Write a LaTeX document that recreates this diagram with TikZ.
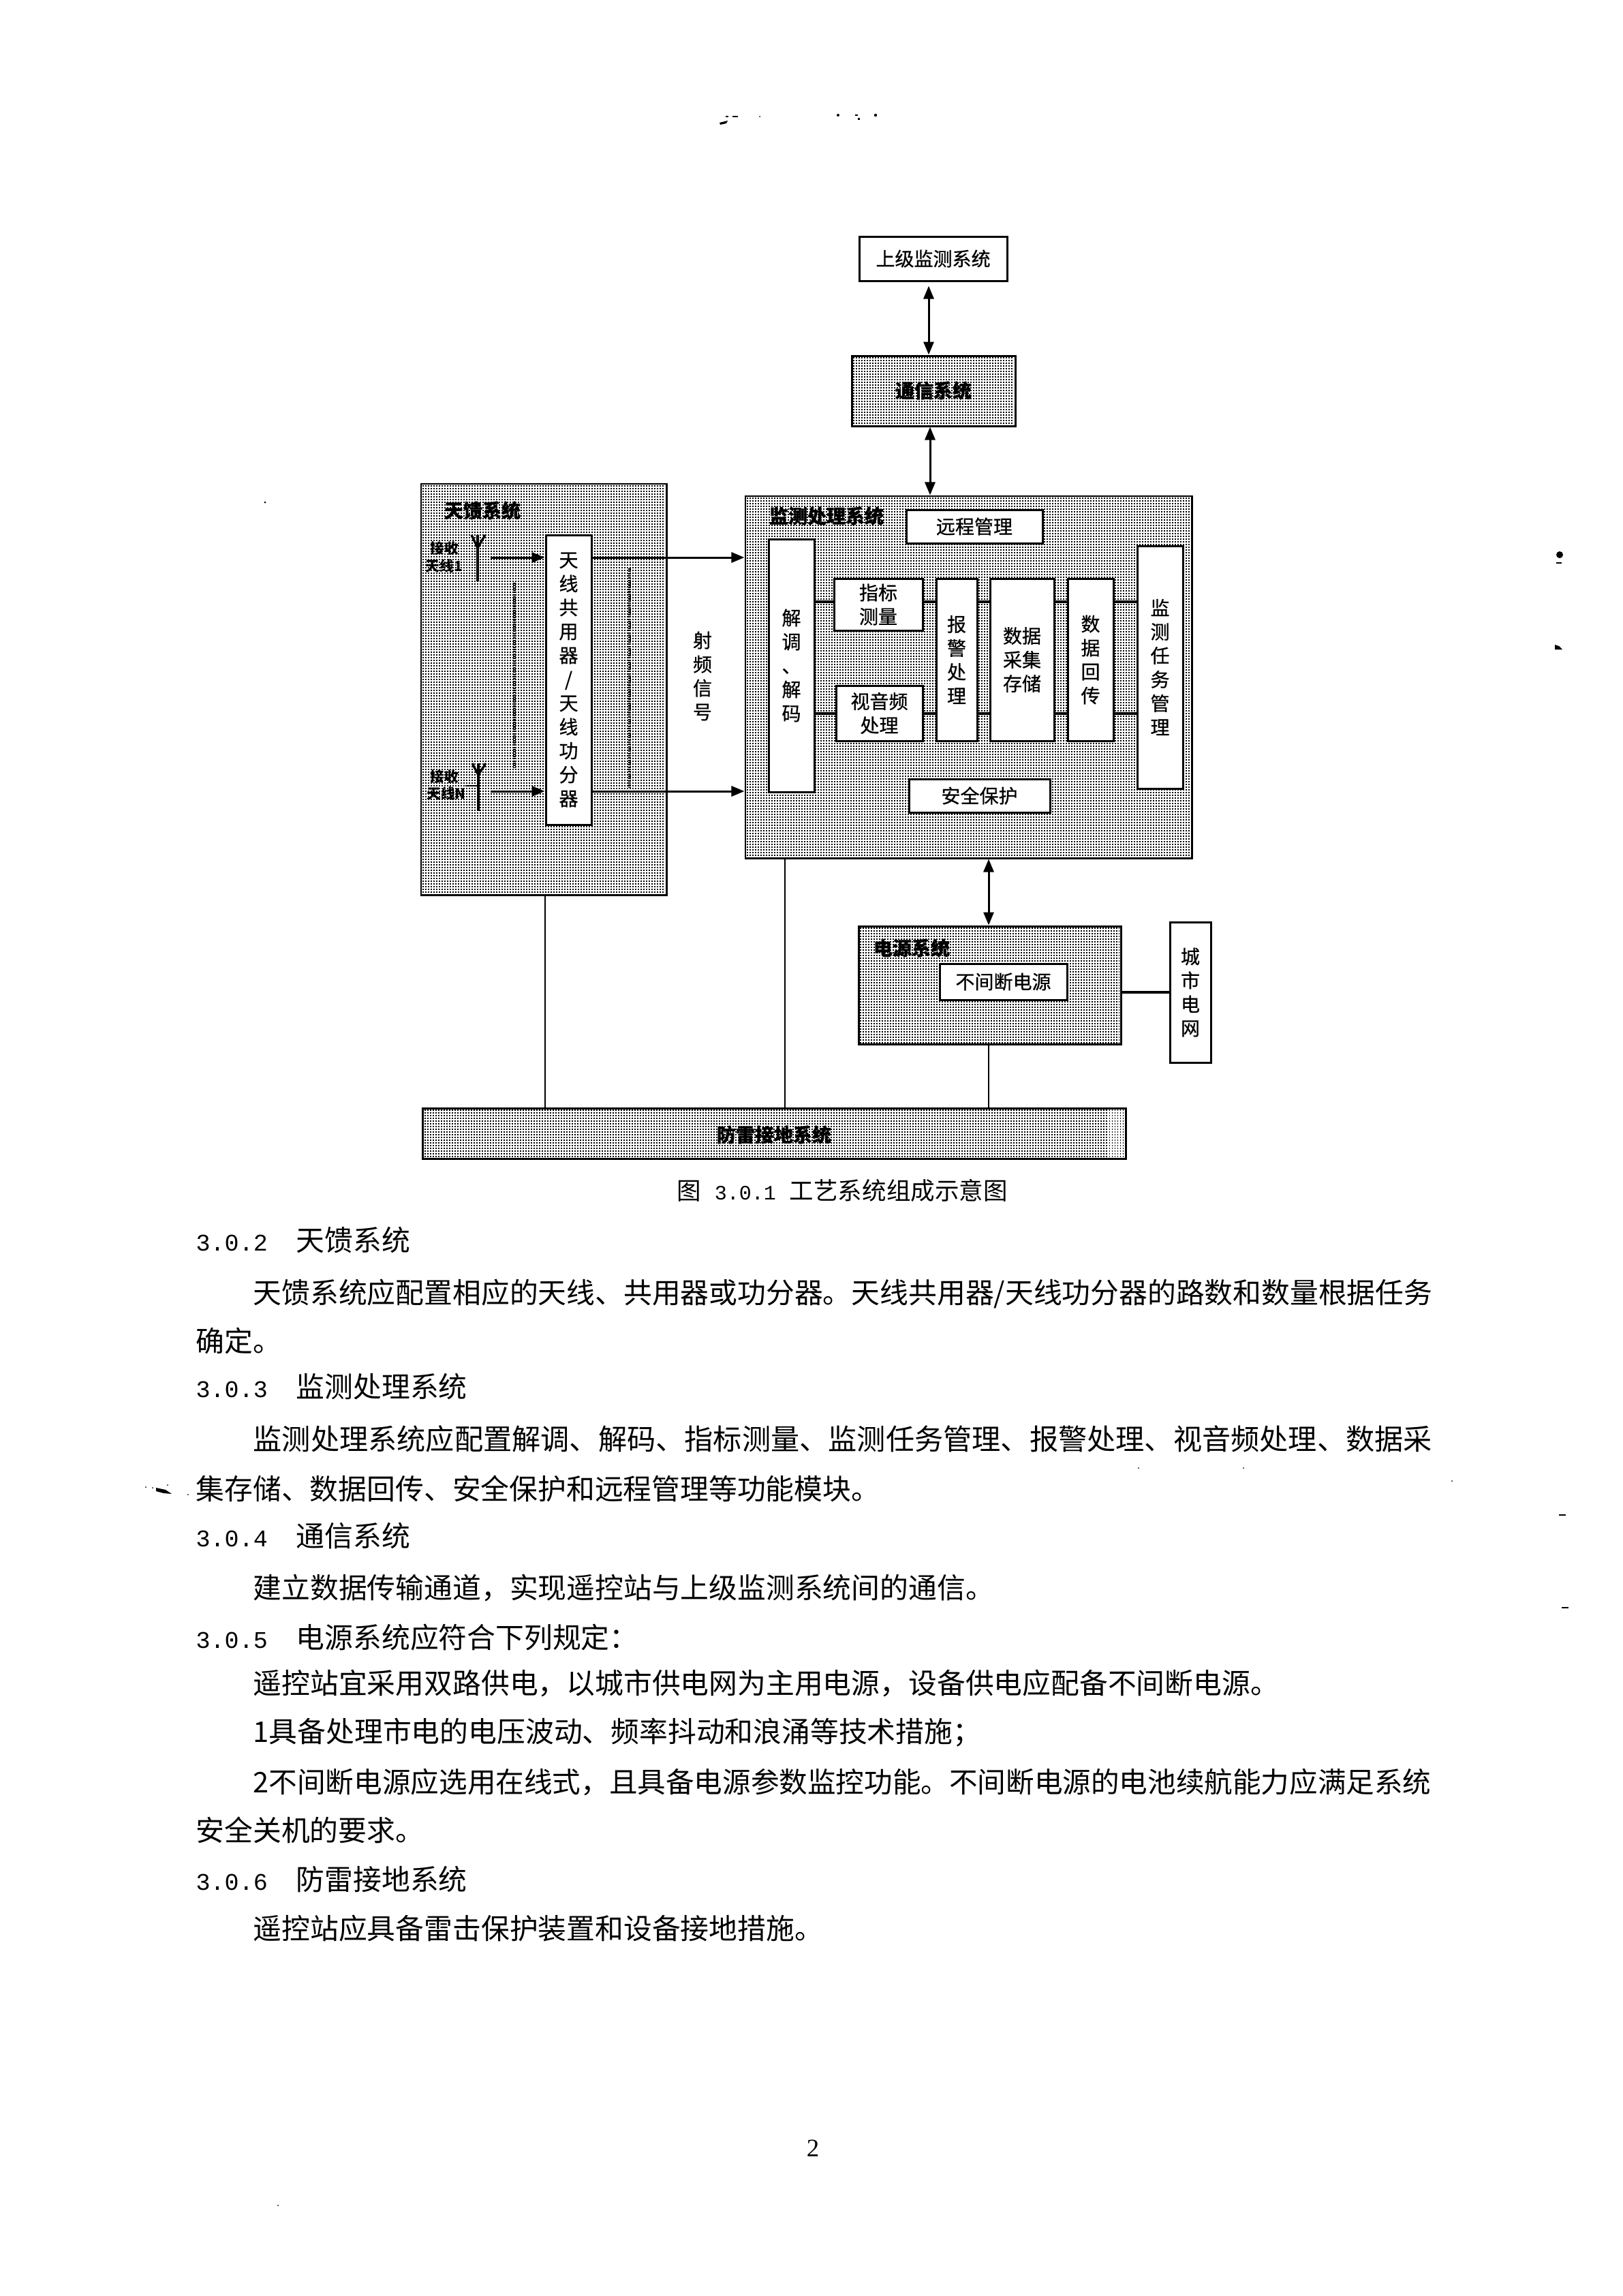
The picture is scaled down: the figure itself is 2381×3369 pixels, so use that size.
\documentclass[tikz,border=0pt]{standalone}
\usepackage{fontspec}
\setmainfont{Noto Sans CJK SC}
\newfontfamily\numfont{Liberation Mono}
\newfontfamily\pagefont{Liberation Serif}
\newfontfamily\diagfont[FakeBold=0.7]{Noto Sans CJK SC}
\usetikzlibrary{arrows.meta}
\newcommand{\fsdiag}{\diagfont\fontsize{7.97}{9.96}\selectfont}
\newcommand{\fsant}{\fontsize{5.9}{7.2}\selectfont\bfseries}
\newcommand{\fsbody}{\fontsize{11.89}{14}\selectfont}
\newcommand{\secnum}[1]{{\numfont\fontsize{9.96}{12}\selectfont #1}\hspace{0.42cm}}
\newcommand{\mkbox}[7]{%
  \pgfmathsetmacro\bw{(#5-#3)*0.01}\pgfmathsetmacro\bh{(#6-#4)*0.01}%
  \node[#2,minimum width=\bw cm,minimum height=\bh cm] (#1) at ({(#3+#5)/2},{(#4+#6)/2}) {#7};}
% stipple of a hatched system box, as dashed rows
\newcommand{\stipple}[4]{%
  \pgfmathtruncatemacro\ya{#2+3}\pgfmathtruncatemacro\yb{#2+7}\pgfmathtruncatemacro\yc{#4-2}%
  \draw[stiprow] \foreach \yy in {\ya,\yb,...,\yc} {(#1+2,\yy) -- (#3-2,\yy)};}
\tikzset{
  whitebox/.style={draw=black,line width=0.85pt,fill=white,inner sep=0pt,align=center,font=\fsdiag},
  hatchbox/.style={draw=black,line width=0.85pt,fill=white,inner sep=0pt},
  stiprow/.style={draw=black,line width=0.45pt,dash pattern=on 0.45pt off 0.688pt},
  label/.style={inner sep=0pt,align=center,font=\fsdiag},
  antlabel/.style={inner sep=0pt,align=center,font=\fsant},
  body/.style={anchor=west,inner sep=0pt,font=\fsbody,text height=.88em,text depth=.12em},
  wire/.style={draw=black,line width=0.7pt},
  thickwire/.style={draw=black,line width=0.95pt},
  both/.style={draw=black,line width=0.85pt,{Triangle[length=0.19cm,width=0.15cm]}-{Triangle[length=0.19cm,width=0.15cm]}},
  onearrow/.style={draw=black,line width=0.85pt,-{Triangle[length=0.19cm,width=0.15cm]}},
  dotline/.style={draw=black,line width=1pt,dash pattern=on 0.6pt off 0.35pt},
  speck/.style={fill=black,draw=none}
}
\begin{document}
\begin{tikzpicture}[x=0.01cm,y=-0.01cm]
\fill[white] (0,0) rectangle (2381,3369);
\useasboundingbox (0,0) rectangle (2381,3369);
% hatched systems
\mkbox{feed}{hatchbox}{618}{710}{978}{1313}{}
\stipple{618}{710}{978}{1313}
\mkbox{mon}{hatchbox}{1094}{728}{1749}{1259}{}
\stipple{1094}{728}{1749}{1259}
\mkbox{comm}{hatchbox}{1250}{522}{1490}{625}{}
\stipple{1250}{522}{1490}{625}
\mkbox{power}{hatchbox}{1260}{1359}{1645}{1532}{}
\stipple{1260}{1359}{1645}{1532}
\mkbox{ground}{hatchbox}{621}{1626}{1652}{1700}{}
\stipple{621}{1626}{1652}{1700}
% white boxes
\mkbox{upper}{whitebox}{1261}{347}{1478}{412}{上级监测系统}
\mkbox{combo}{whitebox}{801}{785}{868}{1210}{天\\线\\共\\用\\器\\/\\天\\线\\功\\分\\器}
\mkbox{remote}{whitebox}{1330}{748}{1530}{797}{远程管理}
\mkbox{demod}{whitebox}{1128}{791}{1195}{1162}{解\\调\\、\\解\\码}
\mkbox{metric}{whitebox}{1224}{849}{1354}{925}{指标\\测量}
\mkbox{av}{whitebox}{1227}{1006}{1354}{1087}{视音频\\处理}
\mkbox{alarm}{whitebox}{1374}{849}{1434}{1087}{报\\警\\处\\理}
\mkbox{store}{whitebox}{1453}{849}{1547}{1087}{数据\\采集\\存储}
\mkbox{back}{whitebox}{1567}{849}{1634}{1087}{数\\据\\回\\传}
\mkbox{task}{whitebox}{1669}{801}{1736}{1157}{监\\测\\任\\务\\管\\理}
\mkbox{safe}{whitebox}{1334}{1143}{1541}{1192}{安全保护}
\mkbox{ups}{whitebox}{1379}{1414}{1566}{1467}{不间断电源}
\mkbox{city}{whitebox}{1717}{1353}{1777}{1559}{城\\市\\电\\网}
% labels on hatching
\node[label,font=\fsdiag\bfseries] (lfeed) at (708,749) {天馈系统};
\node[label,font=\fsdiag\bfseries] (lmon) at (1213,757) {监测处理系统};
\node[label,font=\fsdiag\bfseries] (lcomm) at (1370,573) {通信系统};
\node[label,font=\fsdiag\bfseries] (lpower) at (1338,1391) {电源系统};
\node[label,font=\fsdiag\bfseries] (lground) at (1136,1665) {防雷接地系统};
\node[antlabel] (a1l) at (652,805) {接收};
\node[antlabel] (a1m) at (652,831) {天线1};
\node[antlabel] (anl) at (652,1140) {接收};
\node[antlabel] (anm) at (655,1165) {天线N};
\node[label] (rf) at (1031,992) {射\\频\\信\\号};
\node[inner sep=0pt,font=\fontsize{10.1}{12}\selectfont] (caption) at (1236,1747) {图\hspace{0.2cm}{\numfont\fontsize{8.53}{10}\selectfont 3.0.1}\hspace{0.2cm}工艺系统组成示意图};
% antennas
\draw[thickwire] (701,785) -- (701,853);
\draw[thickwire] (692,785) -- (701,804) -- (712,785);
\draw[thickwire] (702,1120) -- (702,1190);
\draw[thickwire] (693,1120) -- (702,1137) -- (713,1120);
\draw[wire] (683,1153) -- (702,1153);
% connectors
\coordinate (r1) at (0,818);
\coordinate (r2) at (0,1161);
\coordinate (l1) at (0,883);
\coordinate (l2) at (0,1047);
\coordinate (a1out) at (720,818);
\coordinate (anout) at (720,1161);
\draw[onearrow] (a1out) -- (combo.west |- r1);
\draw[onearrow] (anout) -- (combo.west |- r2);
\draw[onearrow] (combo.east |- r1) -- (mon.west |- r1);
\draw[onearrow] (combo.east |- r2) -- (mon.west |- r2);
\coordinate (d1a) at (755,855); \coordinate (d1b) at (755,1126);
\coordinate (d2a) at (924,834); \coordinate (d2b) at (924,1156);
\draw[dotline] (d1a) -- (d1b);
\draw[dotline] (d2a) -- (d2b);
\foreach \a/\b in {demod/metric,metric/alarm,alarm/store,store/back,back/task}
  \draw[thickwire] (\a.east |- l1) -- (\b.west |- l1);
\foreach \a/\b in {demod/av,av/alarm,alarm/store,store/back,back/task}
  \draw[thickwire] (\a.east |- l2) -- (\b.west |- l2);
\coordinate (c1) at (1363,0);
\coordinate (c2) at (1365,0);
\coordinate (c3) at (1451,0);
\draw[both] (upper.south -| c1) ++(0,6) -- (comm.north -| c1);
\draw[both] (comm.south -| c2) -- (mon.north -| c2);
\draw[both] (mon.south -| c3) -- (power.north -| c3);
\coordinate (g1) at (800,0);
\coordinate (g2) at (1152,0);
\draw[wire] (feed.south -| g1) -- (ground.north -| g1);
\draw[wire] (mon.south -| g2) -- (ground.north -| g2);
\draw[wire] (power.south -| c3) -- (ground.north -| c3);
\coordinate (p1) at (0,1456);
\draw[thickwire] (power.east |- p1) -- (city.west |- p1);
% page text
\node[body] (s302) at (287,1822) {\secnum{3.0.2}天馈系统};
\node[body] (t1) at (371,1899) {天馈系统应配置相应的天线、共用器或功分器。天线共用器/天线功分器的路数和数量根据任务};
\node[body] (t2) at (287,1970) {确定。};
\node[body] (s303) at (287,2037) {\secnum{3.0.3}监测处理系统};
\node[body,font=\fontsize{12}{14}\selectfont] (t3) at (371,2114) {监测处理系统应配置解调、解码、指标测量、监测任务管理、报警处理、视音频处理、数据采};
\node[body] (t4) at (287,2187) {集存储、数据回传、安全保护和远程管理等功能模块。};
\node[body] (s304) at (287,2256) {\secnum{3.0.4}通信系统};
\node[body] (t5) at (371,2332) {建立数据传输通道，实现遥控站与上级监测系统间的通信。};
\node[body] (s305) at (287,2405) {\secnum{3.0.5}电源系统应符合下列规定：};
\node[body] (t6) at (371,2472) {遥控站宜采用双路供电，以城市供电网为主用电源，设备供电应配备不间断电源。};
\node[body] (t7) at (371,2543) {1具备处理市电的电压波动、频率抖动和浪涌等技术措施；};
\node[body,font=\fontsize{11.83}{14}\selectfont] (t8) at (371,2617) {2不间断电源应选用在线式，且具备电源参数监控功能。不间断电源的电池续航能力应满足系统};
\node[body] (t9) at (287,2688) {安全关机的要求。};
\node[body] (s306) at (287,2760) {\secnum{3.0.6}防雷接地系统};
\node[body] (t10) at (371,2832) {遥控站应具备雷击保护装置和设备接地措施。};
\node[inner sep=0pt,font=\pagefont\fontsize{10.5}{12}\selectfont] (pageno) at (1193,3152) {2};
% scan specks
\fill[speck] (1056,180) -- (1068,177) -- (1066,181) -- (1057,183) -- cycle;
\fill[speck] (1065,170) rectangle (1069,172);
\fill[speck] (1075,170) rectangle (1083,172);
\fill[speck] (1115,171) circle (1);
\fill[speck] (1230,169) circle (2);
\fill[speck] (1255,168) rectangle (1259,170);
\fill[speck] (1259,173) rectangle (1262,176);
\fill[speck] (1285,169) circle (2.2);
\fill[speck] (2289,814) circle (5);
\fill[speck] (2284,825) rectangle (2292,827);
\fill[speck] (2282,946) -- (2288,948) -- (2293,953) -- (2282,953) -- cycle;
\fill[speck] (389,737) circle (1.5);
\fill[speck] (229,2183) -- (243,2186) -- (252,2192) -- (240,2191) -- (229,2188) -- cycle;
\fill[speck] (214,2182) circle (1);
\fill[speck] (224,2183) circle (1);
\fill[speck] (246,2179) circle (1);
\fill[speck] (276,2193) circle (1);
\fill[speck] (2288,2222) rectangle (2298,2224);
\fill[speck] (2292,2358) rectangle (2302,2360);
\fill[speck] (1671,2154) circle (1);
\fill[speck] (1825,2154) circle (1);
\fill[speck] (2131,2173) circle (1);
\fill[speck] (408,3236) circle (1);
\end{tikzpicture}
\end{document}
